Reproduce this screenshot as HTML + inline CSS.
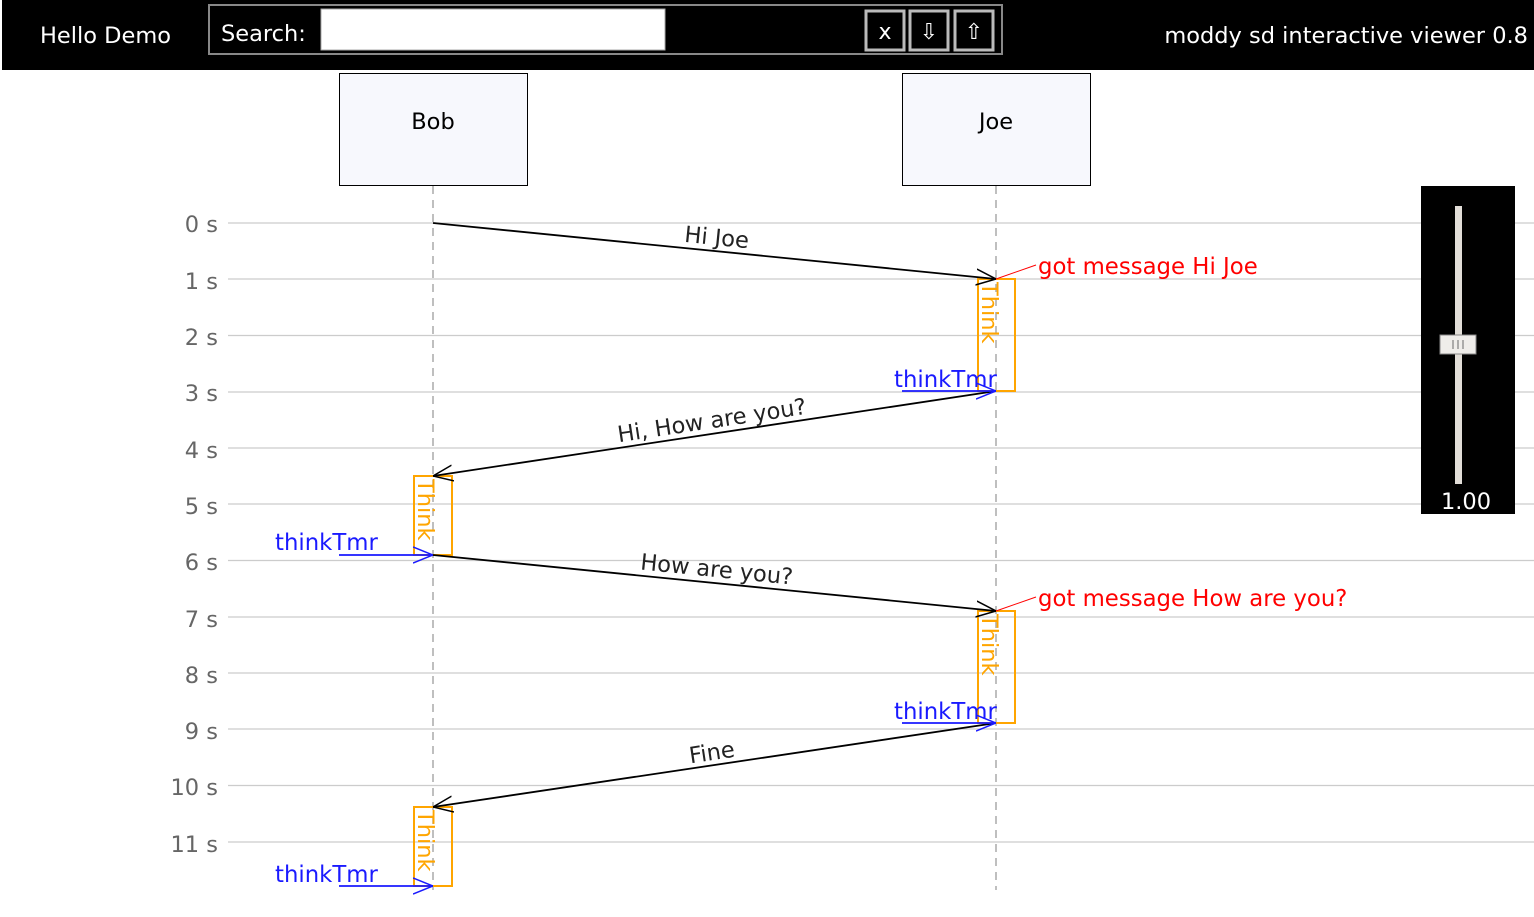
<!DOCTYPE html>
<html><head><meta charset="utf-8"><style>
body{margin:0;width:1534px;height:913px;background:#fff;overflow:hidden;font-family:"DejaVu Sans","Liberation Sans",sans-serif}
</style></head><body>
<svg width="1534" height="913" xmlns="http://www.w3.org/2000/svg" font-family="DejaVu Sans, Liberation Sans, sans-serif">
<defs>
<marker id="ab" viewBox="0 0 20 20" refX="20" refY="10" markerWidth="20" markerHeight="20" markerUnits="userSpaceOnUse" orient="auto"><path d="M0,2 L20,10 L0,18" fill="none" stroke="#000" stroke-width="1.5"/></marker>
<marker id="au" viewBox="0 0 20 20" refX="20" refY="10" markerWidth="20" markerHeight="20" markerUnits="userSpaceOnUse" orient="auto"><path d="M0,2 L20,10 L0,18" fill="none" stroke="#1a1aff" stroke-width="1.5"/></marker>
</defs>
<rect x="2" y="0" width="1532" height="70" fill="#000"/>
<text x="40" y="43" fill="#fff" font-size="22.5">Hello Demo</text>
<rect x="209" y="5" width="793" height="49" fill="#000" stroke="#888" stroke-width="2"/>
<text x="221" y="41" fill="#fff" font-size="22.5">Search:</text>
<rect x="321" y="9" width="344" height="41" fill="#fff" stroke="#aaa"/>
<g fill="#000" stroke="#bbb" stroke-width="3"><rect x="866" y="11" width="38" height="39"/><rect x="910" y="11" width="38" height="39"/><rect x="955" y="11" width="38" height="39"/></g>
<g fill="#fff" font-size="22" text-anchor="middle"><text x="885" y="39">x</text><text x="929" y="39">⇩</text><text x="974" y="39">⇧</text></g>
<text x="1528" y="43" fill="#fff" font-size="22.5" text-anchor="end">moddy sd interactive viewer 0.8</text>

<rect x="339.5" y="73.5" width="188" height="112" fill="#f7f8fd" stroke="#000"/>
<rect x="902.5" y="73.5" width="188" height="112" fill="#f7f8fd" stroke="#000"/>
<text x="433" y="129" font-size="22.5" text-anchor="middle">Bob</text>
<text x="996" y="129" font-size="22.5" text-anchor="middle">Joe</text>

<g stroke="#ccc" stroke-width="1.2">
<line x1="228" y1="223" x2="1534" y2="223"/><line x1="228" y1="279" x2="1534" y2="279"/><line x1="228" y1="335.5" x2="1534" y2="335.5"/><line x1="228" y1="392" x2="1534" y2="392"/><line x1="228" y1="448" x2="1534" y2="448"/><line x1="228" y1="504" x2="1534" y2="504"/><line x1="228" y1="560.5" x2="1534" y2="560.5"/><line x1="228" y1="617" x2="1534" y2="617"/><line x1="228" y1="673" x2="1534" y2="673"/><line x1="228" y1="729" x2="1534" y2="729"/><line x1="228" y1="785.5" x2="1534" y2="785.5"/><line x1="228" y1="842" x2="1534" y2="842"/>
</g>
<g fill="#666" font-size="22.5" text-anchor="end">
<text x="218" y="232">0 s</text><text x="218" y="289">1 s</text><text x="218" y="345">2 s</text><text x="218" y="401">3 s</text><text x="218" y="458">4 s</text><text x="218" y="514">5 s</text><text x="218" y="570">6 s</text><text x="218" y="627">7 s</text><text x="218" y="683">8 s</text><text x="218" y="739">9 s</text><text x="218" y="795">10 s</text><text x="218" y="852">11 s</text>
</g>
<g stroke="#aaa" stroke-width="1.5" stroke-dasharray="8,6"><line x1="433" y1="186" x2="433" y2="890"/><line x1="996" y1="186" x2="996" y2="890"/></g>

<g fill="none" stroke="#ffa500" stroke-width="2">
<rect x="978" y="279" width="37" height="112"/><rect x="414" y="476" width="38" height="79"/><rect x="978" y="611" width="37" height="112"/><rect x="414" y="807" width="38" height="79"/>
</g>
<g fill="#ffa500" font-size="22.5">
<text transform="translate(982,282) rotate(90)">Think</text>
<text transform="translate(418,479) rotate(90)">Think</text>
<text transform="translate(982,614) rotate(90)">Think</text>
<text transform="translate(418,810) rotate(90)">Think</text>
</g>

<g stroke="#000" stroke-width="1.8" fill="none">
<line x1="433" y1="223" x2="996" y2="279" marker-end="url(#ab)"/>
<line x1="996" y1="391" x2="433" y2="476" marker-end="url(#ab)"/>
<line x1="433" y1="555" x2="996" y2="611" marker-end="url(#ab)"/>
<line x1="996" y1="723" x2="433" y2="807" marker-end="url(#ab)"/>
</g>
<g fill="#222" font-size="22.5" text-anchor="middle">
<text transform="translate(716,245) rotate(5.7)">Hi Joe</text>
<text transform="translate(713,428) rotate(-8.6)">Hi, How are you?</text>
<text transform="translate(716,577) rotate(5.7)">How are you?</text>
<text transform="translate(713,760) rotate(-8.5)">Fine</text>
</g>

<g stroke="#1a1aff" stroke-width="1.8">
<line x1="902" y1="391" x2="996" y2="391" marker-end="url(#au)"/>
<line x1="339" y1="555" x2="433" y2="555" marker-end="url(#au)"/>
<line x1="902" y1="723" x2="996" y2="723" marker-end="url(#au)"/>
<line x1="339" y1="886" x2="433" y2="886" marker-end="url(#au)"/>
</g>
<g fill="#1a1aff" font-size="22.8">
<text x="894" y="387">thinkTmr</text><text x="275" y="550">thinkTmr</text><text x="894" y="719">thinkTmr</text><text x="275" y="882">thinkTmr</text>
</g>

<g stroke="#f00" stroke-width="1"><line x1="996" y1="279" x2="1036" y2="265"/><line x1="996" y1="611" x2="1036" y2="597"/></g>
<g fill="#f00" font-size="22.8"><text x="1038" y="274">got message Hi Joe</text><text x="1038" y="606">got message How are you?</text></g>

<rect x="1421" y="186" width="94" height="328" fill="#000"/>
<rect x="1455" y="206" width="7" height="278" fill="#e2ded8"/>
<rect x="1440" y="335" width="36" height="19" fill="#efedea" stroke="#888"/>
<g stroke="#888" stroke-width="1.3"><line x1="1453" y1="340" x2="1453" y2="349"/><line x1="1458" y1="340" x2="1458" y2="349"/><line x1="1463" y1="340" x2="1463" y2="349"/></g>
<text x="1466" y="509" fill="#fff" font-size="22.5" text-anchor="middle">1.00</text>
</svg>
</body></html>
